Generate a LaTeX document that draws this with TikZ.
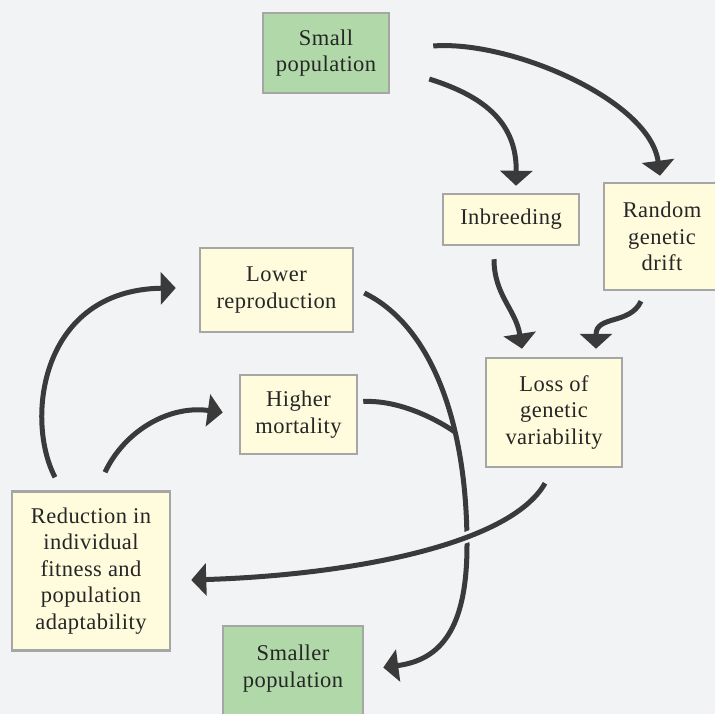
\documentclass[tikz,border=0pt]{standalone}
\usepackage{fontspec}
\setmainfont[LetterSpace=2]{Liberation Serif}
\usetikzlibrary{arrows.meta,calc}
\definecolor{bg}{HTML}{F2F3F5}
\definecolor{cream}{HTML}{FFFCDD}
\definecolor{leaf}{HTML}{B0D8A8}
\definecolor{edgec}{HTML}{A6A6A6}
\definecolor{ink}{HTML}{262626}
\definecolor{arrowc}{HTML}{3A3A3A}
\begin{document}
\begin{tikzpicture}[x=1pt,y=-1pt,
  box/.style={draw=edgec, line width=2.5pt, fill=cream, align=center, text=ink,
    font=\fontsize{22.5}{26.5}\selectfont, inner sep=0pt},
  greenbox/.style={fill=leaf},
  arr/.style={draw=arrowc, line width=5pt, -{Triangle[length=15pt,width=32pt]}},
  link/.style={draw=arrowc, line width=5pt},
  gapline/.style={draw=bg, line width=11pt}]
\fill[bg] (0,0) rectangle (715,714);
\useasboundingbox (0,0) rectangle (715,714);

\node[box,greenbox,minimum width=126pt,minimum height=80pt] (sp) at (326,53) {Small\\population};
\node[box,minimum width=136pt,minimum height=51pt] (inb) at (511,219.5) {Inbreeding};
\node[box,minimum width=116pt,minimum height=107pt] (rgd) at (662,236.5) {Random\\genetic\\drift};
\node[box,minimum width=153pt,minimum height=84pt] (lr) at (276.5,290) {Lower\\reproduction};
\node[box,minimum width=117pt,minimum height=79pt] (hm) at (298.5,414.5) {Higher\\mortality};
\node[box,minimum width=136pt,minimum height=109pt] (lgv) at (554,412.5) {Loss of\\genetic\\variability};
\node[box,minimum width=158pt,minimum height=159pt] (red) at (91,571) {Reduction in\\individual\\fitness and\\population\\adaptability};
\node[box,greenbox,minimum width=140pt,minimum height=95pt,text depth=15pt] (smp) at (293,673.5) {Smaller\\population};

\coordinate (join) at (455,432);
\coordinate (cross) at (467,545);

% top arrows
\draw[arr] ([shift={(39,26)}]sp.east) .. controls (480,95) and (517,120) .. ([shift={(5,-7)}]inb.north);
\draw[arr] ([shift={(43,-7)}]sp.east) .. controls (510,40) and (650,100) .. ([shift={(-2,-6)}]rgd.north);
\draw[arr] ([shift={(-17,13)}]inb.south) .. controls (494,295) and (516,310) .. ([shift={(-32,-8)}]lgv.north);
\draw[arr] ([shift={(-21,10)}]rgd.south) .. controls (630,325) and (596,315) .. ([shift={(42,-8)}]lgv.north);

% loop arrows
\draw[arr] ([shift={(-36,-13)}]red.north) .. controls (25,420) and (40,290) .. ([shift={(-23,-2)}]lr.west);
\draw[arr] ([shift={(14,-18)}]red.north) .. controls (125,430) and (170,405) .. ([shift={(-16,-2)}]hm.west);

% to smaller population
\draw[arr] ([shift={(10,3)}]lr.east) .. controls (430,325) and (467,420) .. (cross)
  .. controls (467,630) and (440,660) .. ([shift={(19,-6)}]smp.east);
\draw[link] ([shift={(5,-13)}]hm.east) .. controls (395,400) and (430,415) .. (join);

% loss -> reduction (passes over)
\path[gapline] ([shift={(-9,15)}]lgv.south) .. controls (510,545) and (350,575) .. ([shift={(20,9)}]red.east);
\draw[arr] ([shift={(-9,15)}]lgv.south) .. controls (510,545) and (350,575) .. ([shift={(20,9)}]red.east);
\end{tikzpicture}
\end{document}
